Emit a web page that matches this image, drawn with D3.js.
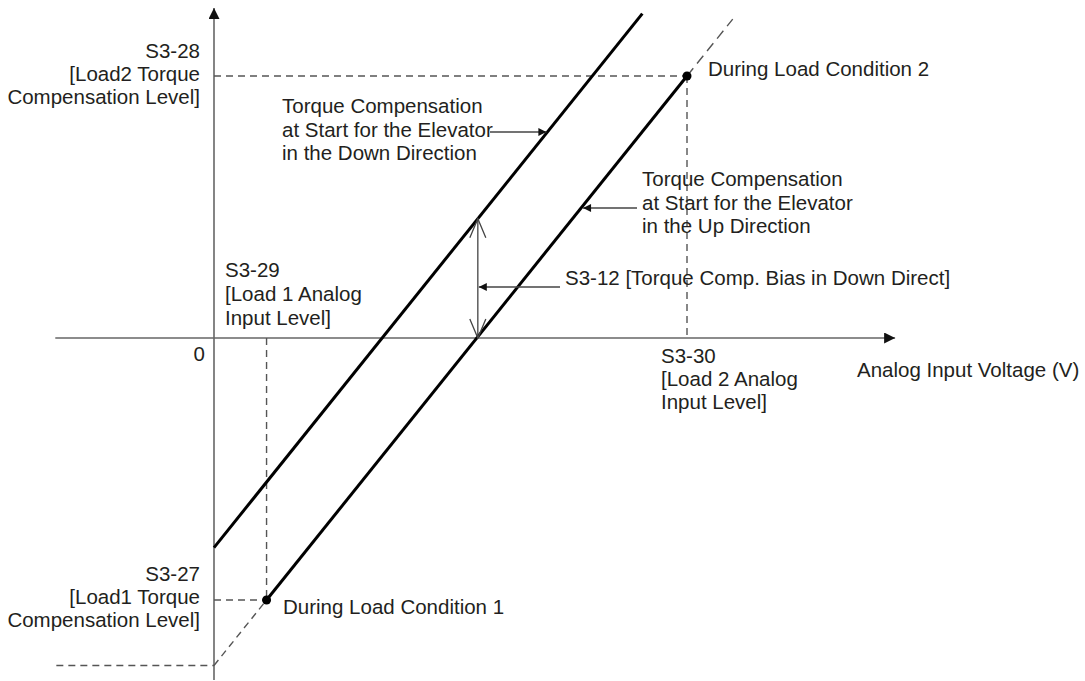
<!DOCTYPE html>
<html><head><meta charset="utf-8">
<script src="https://cdn.jsdelivr.net/npm/d3@7"></script>
<style>
html,body{margin:0;padding:0;background:#fff;}
svg text{font-family:"Liberation Sans",Arial,Helvetica,sans-serif;font-size:20.5px;fill:#231f20;}
</style></head>
<body><svg id="c" width="1085" height="681"></svg>
<script>
// ---- data (voltage in V, torque compensation in %) ----
const loadInput = [1, 9];            // S3-29, S3-30
const loadTorque = [-100, 100];      // S3-27, S3-28
const biasDown = 45;                 // S3-12
const upSolid = [[1, -100], [9, 100]];
const upDashLow = [[0, -125], [1, -100]];
const upDashHigh = [[9, 100], [9.87, 121.7]];
const downSolid = [[0, -80], [8.15, 123.8]];
const xAxisExtent = [-3.02, 12.96];
const yAxisExtent = [-130.5, 126];
const bottomDash = [[-3.0, -125], [0, -125]];

const yLabels = [
  {lines: ["S3-28", "[Load2 Torque", "Compensation Level]"], v: 100},
  {lines: ["S3-27", "[Load1 Torque", "Compensation Level]"], v: -100}
];

const svg = d3.select("#c");
const x = d3.scaleLinear().domain([0, 9]).range([214, 687]);
const y = d3.scaleLinear().domain([0, 100]).range([338, 76]);
const line = d3.line().x(d => x(d[0])).y(d => y(d[1]));

const defs = svg.append("defs");
function marker(id, color, w, h) {
  defs.append("marker").attr("id", id).attr("viewBox", "0 0 10 10")
    .attr("refX", 10).attr("refY", 5).attr("markerWidth", w).attr("markerHeight", h)
    .attr("markerUnits", "userSpaceOnUse").attr("orient", "auto")
    .append("path").attr("d", "M0,0L10,5L0,10Z").attr("fill", color);
}
marker("axisArrow", "#111", 18, 11);
marker("ann", "#111", 15, 8);

const gray = "#666";
// axes
svg.append("line").attr("x1", x(xAxisExtent[0])).attr("x2", x(xAxisExtent[1]))
  .attr("y1", y(0)).attr("y2", y(0)).attr("stroke", gray).attr("stroke-width", 1.6)
  .attr("marker-end", "url(#axisArrow)");
svg.append("line").attr("x1", x(0)).attr("x2", x(0))
  .attr("y1", y(yAxisExtent[0])).attr("y2", y(yAxisExtent[1])).attr("stroke", gray).attr("stroke-width", 1.6)
  .attr("marker-end", "url(#axisArrow)");

// dashed guides
const dash = {stroke: "#555", "stroke-width": 1.4, "stroke-dasharray": "7,5", fill: "none"};
function dpath(pts) {
  const p = svg.append("path").attr("d", line(pts));
  Object.entries(dash).forEach(([k, v]) => p.attr(k, v));
  return p;
}
dpath([[0, loadTorque[1]], [loadInput[1], loadTorque[1]]]);
dpath([[loadInput[1], loadTorque[1]], [loadInput[1], 0]]);
dpath([[loadInput[0], 0], [loadInput[0], loadTorque[0]]]);
dpath([[0, loadTorque[0]], [loadInput[0], loadTorque[0]]]);
dpath(bottomDash);
dpath(upDashLow).attr("stroke-dasharray", "7,5");
dpath(upDashHigh).attr("stroke-dasharray", "10,6");

// main lines
svg.append("path").attr("d", line(upSolid)).attr("stroke", "#000").attr("stroke-width", 3).attr("fill", "none");
svg.append("path").attr("d", line(downSolid)).attr("stroke", "#000").attr("stroke-width", 3).attr("fill", "none");

// points
svg.selectAll("circle.pt").data([[loadInput[0], loadTorque[0]], [loadInput[1], loadTorque[1]]]).join("circle")
  .attr("cx", d => x(d[0])).attr("cy", d => y(d[1])).attr("r", 4.5).attr("fill", "#000");

// bias double arrow (open heads)
const bx = 5.02;
const bTop = y(-80 + (123.8 + 80) / 8.15 * bx);
const bBot = y(0);
svg.append("line").attr("x1", x(bx)).attr("x2", x(bx)).attr("y1", bTop).attr("y2", bBot)
  .attr("stroke", "#444").attr("stroke-width", 1.3);
svg.append("path").attr("d", `M${x(bx)-8},${bTop+19}L${x(bx)},${bTop}L${x(bx)+8},${bTop+19}`)
  .attr("stroke", "#444").attr("stroke-width", 1.3).attr("fill", "none");
svg.append("path").attr("d", `M${x(bx)-8},${bBot-19}L${x(bx)},${bBot}L${x(bx)+8},${bBot-19}`)
  .attr("stroke", "#444").attr("stroke-width", 1.3).attr("fill", "none");

// helper: x pixel on a line at pixel y
function xOn(seg, py) {
  const v = y.invert(py);
  const [a, b] = seg;
  return x(a[0] + (v - a[1]) * (b[0] - a[0]) / (b[1] - a[1]));
}
function annArrow(x1, x2, py) {
  svg.append("line").attr("x1", x1).attr("x2", x2).attr("y1", py).attr("y2", py)
    .attr("stroke", "#444").attr("stroke-width", 1.3).attr("marker-end", "url(#ann)");
}
annArrow(490, xOn(downSolid, 132) - 1, 132);
annArrow(637, xOn(upSolid, 208) + 2, 208);
annArrow(560, x(bx) + 1, 287);

// text
function block(lines, px, py, anchor, lh) {
  const t = svg.append("text").attr("x", px).attr("y", py).attr("text-anchor", anchor);
  lines.forEach((s, i) => t.append("tspan").attr("x", px).attr("dy", i ? lh : 0).text(s));
}
block(yLabels[0].lines, 200, y(yLabels[0].v) - 18, "end", 23);
block(yLabels[1].lines, 200, y(yLabels[1].v) - 19, "end", 23);
block(["0"], 205, 361, "end", 23);
block(["S3-29", "[Load 1 Analog", "Input Level]"], 225, 277, "start", 24);
block(["S3-30", "[Load 2 Analog", "Input Level]"], 661, 363, "start", 23);
block(["Analog Input Voltage (V)"], 857, 377, "start", 23);
block(["During Load Condition 2"], 708, 76, "start", 23);
block(["During Load Condition 1"], 283, 614, "start", 23);
block(["Torque Compensation", "at Start for the Elevator", "in the Down Direction"], 282, 113, "start", 23.5);
block(["Torque Compensation", "at Start for the Elevator", "in the Up Direction"], 642, 186, "start", 23.5);
block(["S3-12 [Torque Comp. Bias in Down Direct]"], 565, 285, "start", 23);
</script></body></html>
